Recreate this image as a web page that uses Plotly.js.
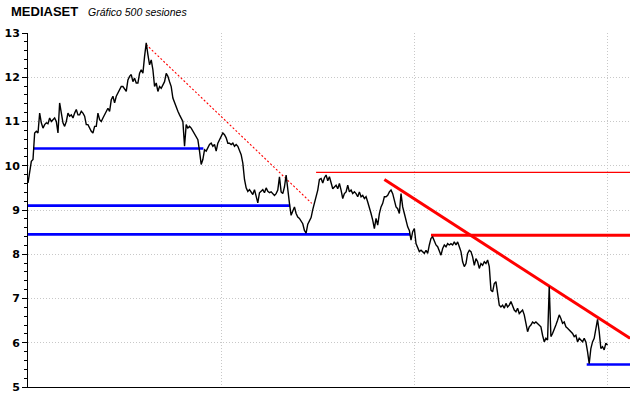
<!DOCTYPE html>
<html><head><meta charset="utf-8">
<script src="https://cdn.plot.ly/plotly-3.0.1.min.js"></script>
<style>html,body{margin:0;padding:0;background:#fff}#chart{width:640px;height:398px}</style>
</head><body><div id="chart"></div>
<script>
// Closing prices left to right (one value per ~1.4 sessions)
const closes = [
9.61,9.91,10.10,10.14,10.74,10.78,10.74,11.19,10.97,10.85,
10.93,10.97,10.95,11.08,11.00,11.04,11.08,11.00,10.74,11.42,
11.19,10.97,10.89,11.00,11.19,11.12,11.15,11.08,11.19,11.27,
11.15,11.15,11.23,11.19,11.12,10.93,10.93,10.85,10.78,10.74,
10.89,10.89,11.19,11.04,11.00,11.08,11.15,11.23,11.30,11.23,
11.49,11.57,11.42,11.57,11.64,11.72,11.79,11.79,11.72,11.68,
11.94,12.02,12.06,11.90,11.98,11.87,11.87,12.09,12.17,12.09,
12.47,12.78,12.51,12.28,
12.39,12.17,11.79,11.87,11.68,11.79,11.75,11.83,11.90,12.09,
12.02,11.90,11.79,11.53,11.42,11.30,11.23,11.15,11.08,11.00,
10.44,10.93,10.85,10.89,10.85,10.78,10.74,10.66,10.59,10.33,
10.03,10.14,10.36,10.33,10.40,10.48,10.51,10.44,10.48,10.33,
10.51,10.59,10.66,10.74,10.70,10.63,10.51,10.51,10.48,10.51,
10.44,10.48,10.44,10.33,10.25,10.06,9.69,9.50,9.42,9.46,
9.39,9.35,9.46,9.27,9.16,9.39,9.42,9.46,9.39,9.50,
9.42,9.39,
9.41,9.37,9.33,9.37,9.45,9.75,9.41,9.37,9.52,9.79,
9.41,9.15,8.88,8.99,9.07,8.92,8.84,8.81,8.73,8.69,
8.54,8.48,8.68,8.77,8.83,9.01,9.15,9.28,9.45,9.69,
9.71,9.61,9.73,9.79,9.66,9.75,9.58,9.48,9.52,9.56,
9.48,9.60,9.45,9.26,9.37,9.41,9.56,9.41,9.45,9.37,
9.41,9.37,9.30,9.41,9.30,9.33,9.26,9.30,9.18,9.07,
8.92,8.77,8.58,8.81,8.66,8.92,9.07,9.15,9.30,9.30,
9.33,9.41,9.45,9.37,9.22,9.07,9.03,8.92,9.37,9.07,
8.92,8.73,8.62,8.54,8.32,8.51,8.58,8.24,8.13,
8.06,8.09,8.06,8.02,8.09,8.02,8.21,8.36,8.39,8.28,
8.21,8.17,8.09,7.98,8.13,8.21,8.17,8.24,8.21,8.24,
8.21,8.28,8.21,8.28,8.17,8.06,7.83,7.72,7.79,8.02,
8.09,8.06,7.94,7.75,7.90,7.83,7.68,7.79,7.75,7.83,
7.79,7.87,7.72,7.19,7.15,7.34,7.38,7.11,6.85,6.81,
6.85,6.78,6.89,6.81,6.85,6.93,6.81,6.74,6.70,6.78,
6.66,
6.70,6.74,6.63,6.40,6.25,6.36,6.40,6.47,6.44,6.47,
6.44,6.40,6.36,6.17,6.02,6.10,6.06,7.27,6.14,6.21,
6.33,6.40,6.51,6.63,6.55,6.44,6.47,6.36,6.33,6.29,
6.25,6.21,6.14,6.17,6.02,6.10,6.06,6.02,6.10,6.02,
5.80,5.53,5.87,6.02,6.10,6.29,6.53,6.25,5.87,5.91,
5.84,5.99,5.95
];
const bars = closes.map((_, i) => i);

const yTicks = [5, 6, 7, 8, 9, 10, 11, 12, 13];
const gridBars = [116, 232, 348];

// Blue support levels
const supportLevels = [10.39, 9.10, 8.45, 5.51];
const supportFrom   = [3.2, 0, 0, 335.5];
const supportTo     = [105.3, 157.4, 229.4, 361.5];

// Red resistance levels
const resistLevels = [9.85, 8.43];
const resistFrom   = [173, 242];
const resistTo     = [361.5, 361.5];
const resistWidth  = [1.3, 3];

// Red diagonal trend lines
const trendFromBar   = [70.9, 214];
const trendFromValue = [12.74, 9.69];
const trendToBar     = [170.4, 361.5];
const trendToValue   = [9.15, 6.10];
const trendDash      = ['2px,2px', 'solid'];
const trendWidth     = [1.1, 3];

const traces = [];
supportLevels.forEach((v, i) => {
  traces.push({x: [supportFrom[i], supportTo[i]], y: [v, v], mode: 'lines',
    line: {color: '#0000ff', width: 2.6}, hoverinfo: 'skip'});
});
resistLevels.forEach((v, i) => {
  traces.push({x: [resistFrom[i], resistTo[i]], y: [v, v], mode: 'lines',
    line: {color: '#ff0000', width: resistWidth[i]}, hoverinfo: 'skip'});
});
trendFromBar.forEach((b, i) => {
  traces.push({x: [b, trendToBar[i]], y: [trendFromValue[i], trendToValue[i]], mode: 'lines',
    line: {color: '#ff0000', width: trendWidth[i], dash: trendDash[i]}, hoverinfo: 'skip'});
});
traces.push({x: bars, y: closes, mode: 'lines', line: {color: '#000', width: 1.4}});

const layout = {
  width: 640, height: 398,
  margin: {l: 28, r: 10, t: 33, b: 11, pad: 0},
  paper_bgcolor: '#fff', plot_bgcolor: '#fff',
  showlegend: false,
  xaxis: {range: [0, 361.5], showticklabels: false, ticks: '', tickvals: gridBars,
    showgrid: true, gridcolor: '#c8c8c8', griddash: '1px,2px', gridwidth: 1,
    zeroline: false, showline: true, linecolor: '#000', linewidth: 1, fixedrange: true},
  yaxis: {range: [5, 13], tickvals: yTicks, ticks: 'outside', ticklen: 5, tickcolor: '#000', tickwidth: 1,
    minor: {tick0: 5, dtick: 0.2, ticks: 'outside', ticklen: 3, tickcolor: '#000', showgrid: false},
    showgrid: true, gridcolor: '#c8c8c8', griddash: '1px,2px', gridwidth: 1,
    zeroline: false, showline: true, linecolor: '#000', linewidth: 1,
    tickfont: {family: 'DejaVu Sans', size: 11, weight: 700, color: '#000'}, fixedrange: true},
  annotations: [
    {text: 'MEDIASET', xref: 'paper', yref: 'paper', x: -0.031, y: 1.062, xanchor: 'left', yanchor: 'middle',
     showarrow: false, font: {family: 'Liberation Sans', size: 13, weight: 700, color: '#000'}},
    {text: '<i>Gráfico 500 sesiones</i>', xref: 'paper', yref: 'paper', x: 0.096, y: 1.058, xanchor: 'left', yanchor: 'middle',
     showarrow: false, font: {family: 'Liberation Sans', size: 10.5, color: '#000'}}
  ]
};
Plotly.newPlot('chart', traces, layout, {displayModeBar: false, staticPlot: true});
</script>
</body></html>
